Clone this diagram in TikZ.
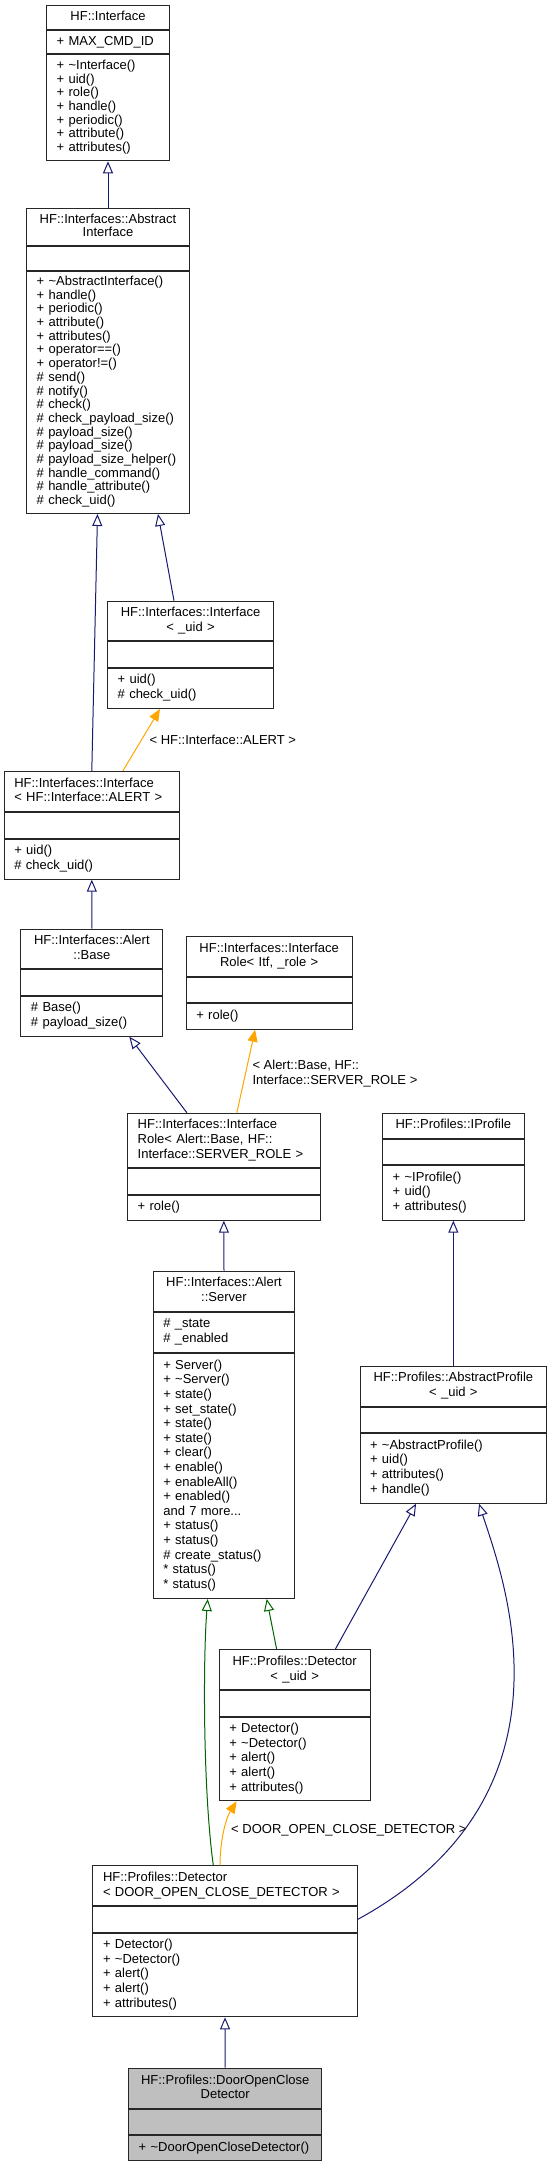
\documentclass[tikz,border=0pt]{standalone}
\usepackage{fontspec}
\setmainfont{Liberation Sans}
\usetikzlibrary{positioning,arrows.meta}
\definecolor{edgeblue}{HTML}{191970}
\definecolor{edgegreen}{HTML}{006400}
\definecolor{edgeorange}{HTML}{FFA500}
\definecolor{boxgray}{HTML}{BFBFBF}
\begin{document}
\begin{tikzpicture}[x=1bp, y=1bp, line width=1bp,
  cls/.style={draw=black!85, fill=white, inner xsep=10bp, inner ysep=0pt,
    font=\fontsize{13bp}{14.6bp}\selectfont, execute at begin node=\strut, execute at end node=\strut},
  ttl/.style={cls, align=center, anchor=north},
  ttll/.style={cls, align=left, anchor=north},
  cpart/.style={cls, align=left, below=0pt of #1},
  tight/.style={font=\fontsize{13bp}{13.7bp}\selectfont},
  focusbox/.style={fill=boxgray},
  pubinh/.style={draw=edgeblue, -{Triangle[open, length=12bp, width=10bp]}},
  protinh/.style={draw=edgegreen, -{Triangle[open, length=12bp, width=10bp]}},
  tmplinst/.style={draw=edgeorange, -{Triangle[length=12bp, width=10bp]}},
  lbl/.style={font=\fontsize{13bp}{15bp}\selectfont, align=left, inner sep=0pt, anchor=west}]
\useasboundingbox (0,0) rectangle (552,-2165);
\node[ttl, text width=102.6bp, minimum height=24bp] (ifaceT) at (108,-5.3) {HF::Interface};
\node[cpart=ifaceT, text width=102.6bp, minimum height=23bp] (ifaceA) {+ MAX\_CMD\_ID};
\node[cpart=ifaceA, tight, text width=102.6bp, minimum height=106bp] (ifaceM) {+ \textasciitilde Interface()\\+ uid()\\+ role()\\+ handle()\\+ periodic()\\+ attribute()\\+ attributes()};
\node[ttl, tight, text width=142.6bp, minimum height=37.3bp] (absT) at (108,-208) {HF::Interfaces::Abstract\\Interface};
\node[cpart=absT, text width=142.6bp, minimum height=23.4bp] (absA) {};
\node[cpart=absA, tight, text width=142.6bp, minimum height=242.3bp] (absM) {+ \textasciitilde AbstractInterface()\\+ handle()\\+ periodic()\\+ attribute()\\+ attributes()\\+ operator==()\\+ operator!=()\\\# send()\\\# notify()\\\# check()\\\# check\_payload\_size()\\\# payload\_size()\\\# payload\_size()\\\# payload\_size\_helper()\\\# handle\_command()\\\# handle\_attribute()\\\# check\_uid()};
\node[ttl, text width=145.6bp, minimum height=39.6bp] (uidIfT) at (190.5,-600.7) {HF::Interfaces::Interface\\< \_uid >};
\node[cpart=uidIfT, text width=145.6bp, minimum height=25.4bp] (uidIfA) {};
\node[cpart=uidIfA, text width=145.6bp, minimum height=40.3bp] (uidIfM) {+ uid()\\\# check\_uid()};
\node[ttll, text width=155bp, minimum height=40.3bp] (alertIfT) at (91.8,-771) {HF::Interfaces::Interface\\< HF::Interface::ALERT >};
\node[cpart=alertIfT, text width=155bp, minimum height=25.4bp] (alertIfA) {};
\node[cpart=alertIfA, text width=155bp, minimum height=40bp] (alertIfM) {+ uid()\\\# check\_uid()};
\node[ttl, text width=121.7bp, minimum height=39.6bp] (baseT) at (91.85,-928.7) {HF::Interfaces::Alert\\::Base};
\node[cpart=baseT, text width=121.7bp, minimum height=25.7bp] (baseA) {};
\node[cpart=baseA, text width=121.7bp, minimum height=39.7bp] (baseM) {\# Base()\\\# payload\_size()};
\node[ttl, text width=145.7bp, minimum height=40bp] (roleItfT) at (269.15,-936) {HF::Interfaces::Interface\\Role< Itf, \_role >};
\node[cpart=roleItfT, text width=145.7bp, minimum height=25.3bp] (roleItfA) {};
\node[cpart=roleItfA, text width=145.7bp, minimum height=25.4bp] (roleItfM) {+ role()};
\node[ttll, text width=172.3bp, minimum height=54.6bp] (roleAlertT) at (223.85,-1112.7) {HF::Interfaces::Interface\\Role< Alert::Base, HF::\\Interface::SERVER\_ROLE >};
\node[cpart=roleAlertT, text width=172.3bp, minimum height=25.4bp] (roleAlertA) {};
\node[cpart=roleAlertA, text width=172.3bp, minimum height=25bp] (roleAlertM) {+ role()};
\node[ttl, text width=121.3bp, minimum height=25bp] (iprofT) at (453.35,-1112.7) {HF::Profiles::IProfile};
\node[cpart=iprofT, text width=121.3bp, minimum height=25.6bp] (iprofA) {};
\node[cpart=iprofA, text width=121.3bp, minimum height=54.4bp] (iprofM) {+ \textasciitilde IProfile()\\+ uid()\\+ attributes()};
\node[ttl, text width=121.4bp, minimum height=40bp] (serverT) at (224,-1270.7) {HF::Interfaces::Alert\\::Server};
\node[cpart=serverT, text width=121.4bp, minimum height=40bp] (serverA) {\# \_state\\\# \_enabled};
\node[cpart=serverA, text width=121.4bp, minimum height=245.3bp] (serverM) {+ Server()\\+ \textasciitilde Server()\\+ state()\\+ set\_state()\\+ state()\\+ state()\\+ clear()\\+ enable()\\+ enableAll()\\+ enabled()\\and 7 more...\\+ status()\\+ status()\\\# create\_status()\\{}* status()\\{}* status()};
\node[ttl, text width=166.7bp, minimum height=40.3bp] (absProfT) at (453.35,-1365.7) {HF::Profiles::AbstractProfile\\< \_uid >};
\node[cpart=absProfT, text width=166.7bp, minimum height=25bp] (absProfA) {};
\node[cpart=absProfA, text width=166.7bp, minimum height=69.7bp] (absProfM) {+ \textasciitilde AbstractProfile()\\+ uid()\\+ attributes()\\+ handle()};
\node[ttl, text width=130.7bp, minimum height=40bp] (detUidT) at (294.65,-1649.3) {HF::Profiles::Detector\\< \_uid >};
\node[cpart=detUidT, text width=130.7bp, minimum height=25.4bp] (detUidA) {};
\node[cpart=detUidA, text width=130.7bp, minimum height=83.6bp] (detUidM) {+ Detector()\\+ \textasciitilde Detector()\\+ alert()\\+ alert()\\+ attributes()};
\node[ttll, text width=244bp, minimum height=40bp] (detDoorT) at (225,-1865.3) {HF::Profiles::Detector\\< DOOR\_OPEN\_CLOSE\_DETECTOR >};
\node[cpart=detDoorT, text width=244bp, minimum height=25.4bp] (detDoorA) {};
\node[cpart=detDoorA, text width=244bp, minimum height=83.6bp] (detDoorM) {+ Detector()\\+ \textasciitilde Detector()\\+ alert()\\+ alert()\\+ attributes()};
\node[ttl, focusbox, text width=173bp, minimum height=40.6bp] (doorT) at (225.2,-2067.7) {HF::Profiles::DoorOpenClose\\Detector};
\node[cpart=doorT, focusbox, text width=173bp, minimum height=25bp] (doorA) {};
\node[cpart=doorA, focusbox, text width=173bp, minimum height=25bp] (doorM) {+ \textasciitilde DoorOpenCloseDetector()};
\draw[pubinh] (absT.north) -- (ifaceM.south);
\draw[pubinh] (alertIfT.north) -- ([xshift=-10.5bp]absM.south);
\draw[pubinh] ([xshift=-16.5bp]uidIfT.north) -- ([xshift=50bp]absM.south);
\draw[tmplinst] ([xshift=31bp]alertIfT.north) -- node[lbl, xshift=7.7bp] {< HF::Interface::ALERT >} ([xshift=-30.5bp]uidIfM.south);
\draw[pubinh] (baseT.north) -- (alertIfM.south);
\draw[pubinh] ([xshift=-37bp]roleAlertT.north) -- ([xshift=37.5bp]baseM.south);
\draw[tmplinst] ([xshift=13bp]roleAlertT.north) -- node[lbl, xshift=6bp, yshift=-2bp] {< Alert::Base, HF::\\Interface::SERVER\_ROLE >} ([xshift=-14bp]roleItfM.south);
\draw[pubinh] (serverT.north) -- (roleAlertM.south);
\draw[pubinh] (absProfT.north) -- (iprofM.south);
\draw[protinh] ([xshift=-11.7bp]detDoorT.north) .. controls (203,-1790) and (203,-1660) .. ([xshift=-16.3bp]serverM.south);
\draw[protinh] ([xshift=-18bp]detUidT.north) -- ([xshift=42.7bp]serverM.south);
\draw[pubinh] ([xshift=40.6bp]detUidT.north) -- ([xshift=-37.3bp]absProfM.south);
\draw[pubinh] (detDoorA.east) .. controls (587.6,-1793.8) and (501.7,-1574) .. ([xshift=25.7bp]absProfM.south);
\draw[tmplinst] ([xshift=-5bp]detDoorT.north) .. controls (220,-1840) and (226,-1818) .. ([xshift=-58bp]detUidM.south) node[lbl, pos=0.5, xshift=6.4bp] {< DOOR\_OPEN\_CLOSE\_DETECTOR >};
\draw[pubinh] (doorT.north) -- (detDoorM.south);
\end{tikzpicture}
\end{document}
